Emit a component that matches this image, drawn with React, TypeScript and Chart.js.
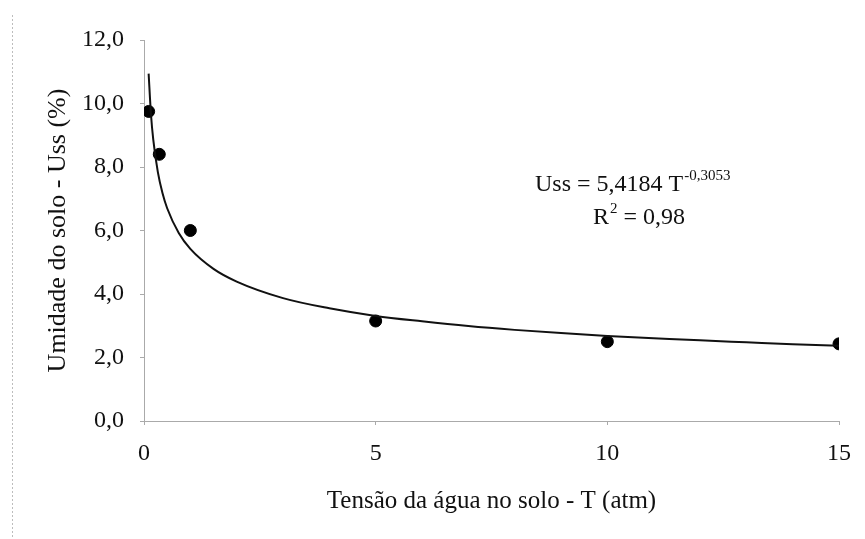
import React, { useEffect, useRef } from "react";
import { Chart, registerables } from "chart.js";

Chart.register(...registerables);

// Observed data points
const obsT = [0.1, 0.33, 1, 5, 10, 15];
const obsUss = [9.75, 8.4, 6.0, 3.15, 2.5, 2.43];

// Fitted curve
const fitT = [0.1, 0.15, 0.2, 0.3, 0.4, 0.5, 0.75, 1, 1.5, 2, 3, 4, 5, 6, 7, 8, 9, 10, 11, 12, 13, 14, 15];
const fitUss = [10.94, 9.67, 8.86, 7.83, 7.17, 6.7, 5.92, 5.42, 4.79, 4.39, 3.87, 3.55, 3.31, 3.14, 2.99, 2.87, 2.77, 2.68, 2.61, 2.54, 2.48, 2.42, 2.37];

const xTitle = "Tensão da água no solo - T (atm)";
const yTitle = "Umidade do solo - Uss (%)";
const eqMain = "Uss = 5,4184 T";
const eqExp = "-0,3053";
const r2Label = "R";
const r2Sup = "2";
const r2Value = " = 0,98";

const FONT = '"Liberation Serif", "Times New Roman", serif';

const annotationPlugin = {
  id: "annot",
  afterDraw(chart: any) {
    const ctx = chart.ctx as CanvasRenderingContext2D;
    ctx.save();
    // left frame dotted line
    ctx.strokeStyle = "#bdbdbd";
    ctx.lineWidth = 1;
    ctx.setLineDash([2, 2]);
    ctx.beginPath();
    ctx.moveTo(12.5, 15);
    ctx.lineTo(12.5, 539);
    ctx.stroke();
    ctx.setLineDash([]);

    ctx.fillStyle = "#111";
    ctx.textBaseline = "alphabetic";
    ctx.textAlign = "left";
    ctx.font = `24px ${FONT}`;
    const x0 = 535;
    const y0 = 191;
    ctx.fillText(eqMain, x0, y0);
    const w = ctx.measureText(eqMain).width;
    ctx.font = `15px ${FONT}`;
    ctx.fillText(eqExp, x0 + w + 1, y0 - 11);

    ctx.font = `24px ${FONT}`;
    const rx = 593;
    const ry = 224;
    ctx.fillText(r2Label, rx, ry);
    const rw = ctx.measureText(r2Label).width;
    ctx.font = `15px ${FONT}`;
    ctx.fillText(r2Sup, rx + rw + 1, ry - 11);
    const sw = ctx.measureText(r2Sup).width;
    ctx.font = `24px ${FONT}`;
    ctx.fillText(r2Value, rx + rw + sw + 1, ry);
    ctx.restore();
  },
};

export default function App() {
  const ref = useRef<HTMLCanvasElement | null>(null);

  useEffect(() => {
    if (!ref.current) return;
    const chart = new Chart(ref.current, {
      type: "scatter",
      data: {
        datasets: [
          {
            label: "ajuste",
            data: fitT.map((t, i) => ({ x: t, y: fitUss[i] })),
            showLine: true,
            borderColor: "#111",
            borderWidth: 2,
            pointRadius: 0,
            cubicInterpolationMode: "monotone",
            fill: false,
          },
          {
            label: "observado",
            data: obsT.map((t, i) => ({ x: t, y: obsUss[i] })),
            showLine: false,
            backgroundColor: "#000",
            borderColor: "#000",
            pointRadius: 6,
          },
        ],
      },
      options: {
        animation: false,
        responsive: false,
        maintainAspectRatio: false,
        layout: { padding: { left: 0, right: 26, top: 40, bottom: 0 } },
        plugins: { legend: { display: false }, tooltip: { enabled: false } },
        scales: {
          x: {
            type: "linear",
            min: 0,
            max: 15,
            afterFit(scale: any) {
              scale.height = 118;
            },
            border: { display: true, color: "#aaa", dash: [5, 2], width: 1 },
            grid: { drawOnChartArea: false, drawTicks: true, tickLength: 4, color: "#aaa" },
            ticks: {
              stepSize: 5,
              padding: 14,
              color: "#111",
              font: { family: FONT, size: 24 },
            },
            title: {
              display: true,
              text: xTitle,
              color: "#111",
              font: { family: FONT, size: 25 },
              padding: { top: 0, bottom: 23 },
            },
          },
          y: {
            type: "linear",
            min: 0,
            max: 12,
            afterFit(scale: any) {
              scale.width = 144;
            },
            border: { display: true, color: "#aaa", dash: [5, 2], width: 1 },
            grid: { drawOnChartArea: false, drawTicks: true, tickLength: 4, color: "#aaa" },
            ticks: {
              stepSize: 2,
              padding: 16,
              color: "#111",
              font: { family: FONT, size: 24 },
              callback: (v: any) => Number(v).toFixed(1).replace(".", ","),
            },
            title: {
              display: true,
              text: yTitle,
              color: "#111",
              font: { family: FONT, size: 26 },
              padding: { top: 43, bottom: 0 },
            },
          },
        },
      },
      plugins: [annotationPlugin],
    } as any);
    return () => chart.destroy();
  }, []);

  return (
    <div style={{ position: "fixed", left: 0, top: 0, width: 865, height: 539, background: "#fff" }}>
      <canvas ref={ref} width={865} height={539} style={{ display: "block" }} />
    </div>
  );
}
